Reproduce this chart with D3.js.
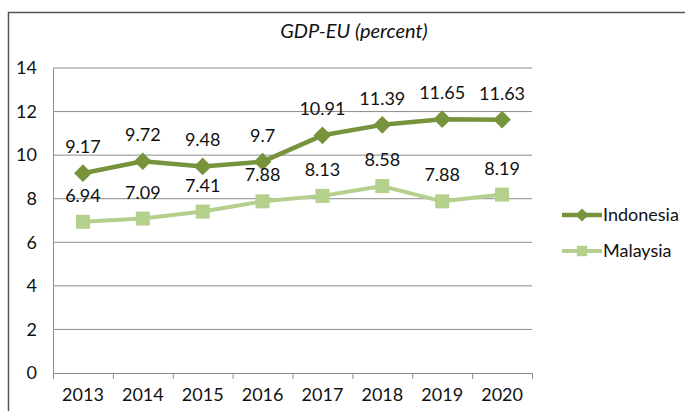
<!DOCTYPE html>
<html>
<head>
<meta charset="utf-8">
<script src="https://cdn.jsdelivr.net/npm/d3@7"></script>
<style>
  body { margin: 0; background: #fff; }
  text { font-family: Lato, "Open Sans", sans-serif; fill: #111; }
</style>
</head>
<body>
<svg id="chart" width="685" height="411"></svg>
<script>
// GDP-EU line chart, Indonesia vs Malaysia

const years = ["2013", "2014", "2015", "2016", "2017", "2018", "2019", "2020"];
const indonesia = [9.17, 9.72, 9.48, 9.7, 10.91, 11.39, 11.65, 11.63];
const malaysia = [6.94, 7.09, 7.41, 7.88, 8.13, 8.58, 7.88, 8.19];
const yTicks = [0, 2, 4, 6, 8, 10, 12, 14];

const series = [
  { name: "Indonesia", values: indonesia, color: "#77933c", width: 4.5, shape: d3.symbolDiamond2, size: 200 },
  { name: "Malaysia", values: malaysia, color: "#b5cf8c", width: 4, shape: d3.symbolSquare2, size: 250 }
];

const margin = { top: 68, left: 53, right: 153, bottom: 38 };
const width = 685 - margin.left - margin.right,
  height = 411 - margin.top - margin.bottom;

const svg = d3.select("#chart");

// outer frame
svg.append("rect")
  .attr("x", 8.5).attr("y", 12.5)
  .attr("width", 700).attr("height", 420)
  .attr("fill", "none")
  .attr("stroke", "#555")
  .attr("stroke-width", 1.5);

svg.append("text")
  .attr("x", 354).attr("y", 38)
  .attr("text-anchor", "middle")
  .style("font-style", "italic")
  .style("font-size", "20px")
  .text("GDP-EU (percent)");

const g = svg.append("g")
  .attr("transform", `translate(${margin.left},${margin.top})`);

const x = d3.scaleBand().domain(years).range([0, width]);
const y = d3.scaleLinear().domain([0, 14]).range([height, 0]);

// gridlines
g.append("g")
  .selectAll("line")
  .data(yTicks.filter(d => d > 0))
  .enter()
  .append("line")
  .attr("x1", 0).attr("x2", width)
  .attr("y1", d => y(d)).attr("y2", d => y(d))
  .attr("stroke", "#8c8c8c")
  .attr("stroke-width", 1);

// y axis
const yAxis = g.append("g")
  .call(d3.axisLeft(y).tickValues(yTicks).tickSize(0).tickPadding(16));
yAxis.select(".domain").attr("stroke", "#8c8c8c");
yAxis.selectAll("text").style("font-size", "18px").attr("fill", "#111");

// x axis
const xAxis = g.append("g")
  .attr("transform", `translate(0,${height})`)
  .call(d3.axisBottom(x).tickSize(0).tickPadding(15));
xAxis.select(".domain").attr("stroke", "#8c8c8c");
xAxis.selectAll("text").style("font-size", "18px").attr("fill", "#111");
xAxis.selectAll(".tick line").remove();
xAxis.append("g")
  .selectAll("line")
  .data(years.concat(["end"]))
  .enter()
  .append("line")
  .attr("x1", (d, i) => i * x.bandwidth() + 0.5)
  .attr("x2", (d, i) => i * x.bandwidth() + 0.5)
  .attr("y1", 0).attr("y2", 6)
  .attr("stroke", "#8c8c8c");

const line = d3.line()
  .x((d, i) => x(years[i]) + x.bandwidth() / 2)
  .y(d => y(d));

series.slice().reverse().forEach(s => {
  g.append("path")
    .datum(s.values)
    .attr("d", line)
    .attr("fill", "none")
    .attr("stroke", s.color)
    .attr("stroke-width", s.width)
    .attr("stroke-linejoin", "round");

  g.selectAll(null)
    .data(s.values)
    .enter()
    .append("path")
    .attr("d", d3.symbol().type(s.shape).size(s.size))
    .attr("transform", (d, i) => `translate(${x(years[i]) + x.bandwidth() / 2},${y(d)})`)
    .attr("fill", s.color);
});

series.forEach(s => {
  g.selectAll(null)
    .data(s.values)
    .enter()
    .append("text")
    .attr("x", (d, i) => x(years[i]) + x.bandwidth() / 2)
    .attr("y", d => y(d) - 20)
    .attr("text-anchor", "middle")
    .style("font-size", "18px")
    .text(d => d);
});

// legend
const legend = svg.append("g").attr("transform", "translate(562,215)");
series.forEach((s, i) => {
  const row = legend.append("g").attr("transform", `translate(0,${i * 36})`);
  row.append("line")
    .attr("x1", 0).attr("x2", 40)
    .attr("stroke", s.color)
    .attr("stroke-width", s.width);
  row.append("path")
    .attr("d", d3.symbol().type(s.shape).size(s.size * 0.55))
    .attr("transform", "translate(20,0)")
    .attr("fill", s.color);
  row.append("text")
    .attr("x", 41).attr("y", 6)
    .style("font-size", "18px")
    .text(s.name);
});
</script>
</body>
</html>
